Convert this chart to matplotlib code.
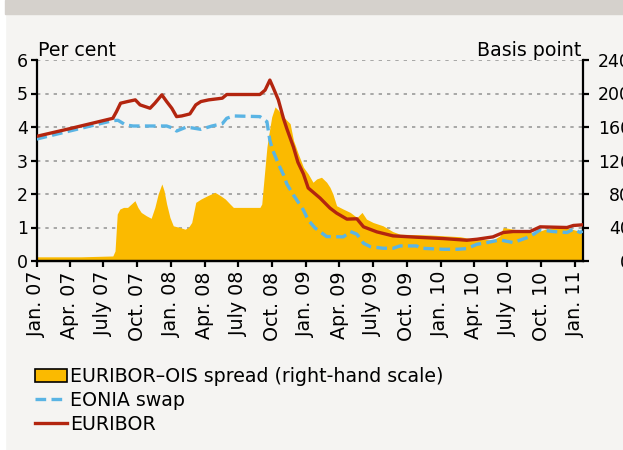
import matplotlib
matplotlib.use('Agg')
from matplotlib import pyplot as plt
from matplotlib.patches import Rectangle, Patch
from matplotlib.lines import Line2D
import pandas as pd

# 3-month EURIBOR, per cent
euribor_dates = ['2007-01-01', '2007-04-01', '2007-07-27', '2007-08-06', '2007-08-17', '2007-09-05',
                 '2007-09-26', '2007-10-09', '2007-11-05', '2007-11-18', '2007-12-07', '2007-12-20',
                 '2008-01-03', '2008-01-16', '2008-01-30', '2008-02-21', '2008-03-08', '2008-03-22',
                 '2008-04-12', '2008-05-19', '2008-05-31', '2008-08-29', '2008-09-12', '2008-09-25',
                 '2008-10-03', '2008-10-18', '2008-11-01', '2008-11-10', '2008-11-28', '2008-12-10',
                 '2008-12-25', '2009-01-07', '2009-02-08', '2009-03-07', '2009-03-25', '2009-04-22',
                 '2009-05-19', '2009-06-06', '2009-07-12', '2009-08-25', '2009-10-28', '2010-01-08',
                 '2010-03-13', '2010-04-10', '2010-05-23', '2010-06-20', '2010-07-17', '2010-09-01',
                 '2010-09-28', '2010-12-10', '2010-12-27', '2011-01-21']
euribor = [3.72, 3.95, 4.26, 4.46, 4.71, 4.76,
           4.81, 4.66, 4.56, 4.71, 4.96, 4.76,
           4.56, 4.31, 4.33, 4.39, 4.66, 4.76,
           4.81, 4.86, 4.97, 4.97, 5.10, 5.40,
           5.20, 4.81, 4.25, 3.95, 3.40, 2.95,
           2.60, 2.18, 1.88, 1.58, 1.43, 1.25,
           1.26, 1.02, 0.87, 0.75, 0.71, 0.67,
           0.62, 0.65, 0.72, 0.85, 0.88, 0.88,
           1.02, 1.00, 1.06, 1.08]

# 3-month EONIA swap, per cent
eonia_dates = ['2007-01-01', '2007-04-01', '2007-07-27', '2007-08-10', '2007-08-31', '2007-09-20',
               '2007-12-20', '2008-01-10', '2008-01-16', '2008-02-12', '2008-03-22', '2008-04-21',
               '2008-05-19', '2008-05-31', '2008-06-18', '2008-08-29', '2008-09-17', '2008-09-25',
               '2008-10-03', '2008-10-18', '2008-11-01', '2008-11-10', '2008-11-28', '2008-12-25',
               '2009-01-07', '2009-01-26', '2009-02-26', '2009-04-12', '2009-04-22', '2009-05-01',
               '2009-05-19', '2009-06-06', '2009-06-24', '2009-07-29', '2009-08-25', '2009-09-13',
               '2009-10-28', '2009-11-10', '2010-01-08', '2010-02-15', '2010-03-13', '2010-04-10',
               '2010-05-07', '2010-06-11', '2010-07-17', '2010-09-01', '2010-09-28', '2010-11-02',
               '2010-12-10', '2010-12-27', '2011-01-15', '2011-01-21']
eonia = [3.64, 3.88, 4.19, 4.20, 4.06, 4.03,
         4.03, 3.95, 3.88, 4.00, 3.93, 4.03,
         4.10, 4.26, 4.33, 4.31, 4.16, 3.60,
         3.30, 2.90, 2.57, 2.30, 1.97, 1.52,
         1.22, 0.98, 0.73, 0.72, 0.80, 0.88,
         0.80, 0.53, 0.43, 0.38, 0.38, 0.45,
         0.45, 0.38, 0.35, 0.35, 0.37, 0.50,
         0.55, 0.63, 0.55, 0.73, 0.93, 0.88,
         0.85, 0.95, 0.85, 0.90]

# EURIBOR-OIS spread, basis points
spread_dates = ['2007-01-01', '2007-03-01', '2007-05-01', '2007-07-27', '2007-08-02', '2007-08-08',
                '2007-08-15', '2007-08-25', '2007-09-05', '2007-09-20', '2007-09-25', '2007-10-03',
                '2007-10-12', '2007-10-26', '2007-11-08', '2007-11-18', '2007-11-27', '2007-12-07',
                '2007-12-13', '2007-12-20', '2007-12-29', '2008-01-07', '2008-01-25', '2008-02-08',
                '2008-02-17', '2008-02-26', '2008-03-08', '2008-03-22', '2008-04-09', '2008-04-29',
                '2008-05-14', '2008-05-27', '2008-06-09', '2008-06-18', '2008-08-29', '2008-09-03',
                '2008-09-07', '2008-09-17', '2008-09-21', '2008-09-30', '2008-10-09', '2008-10-18',
                '2008-11-01', '2008-11-19', '2008-11-28', '2008-12-11', '2008-12-25', '2009-01-07',
                '2009-01-20', '2009-01-30', '2009-02-12', '2009-02-26', '2009-03-07', '2009-03-15',
                '2009-03-25', '2009-04-12', '2009-05-01', '2009-05-19', '2009-06-02', '2009-06-14',
                '2009-07-02', '2009-07-29', '2009-08-25', '2009-09-13', '2009-12-04', '2010-02-23',
                '2010-03-20', '2010-04-27', '2010-05-23', '2010-06-11', '2010-06-20', '2010-07-17',
                '2010-08-24', '2010-09-09', '2010-10-12', '2010-11-13', '2010-12-10', '2010-12-31',
                '2011-01-21']
spread = [5, 5, 5, 6, 12, 56,
          62, 64, 64, 70, 72, 64,
          58, 54, 51, 64, 80, 92,
          84, 68, 52, 42, 40, 38,
          40, 46, 70, 74, 78, 82,
          78, 74, 68, 64, 64, 68,
          88, 136, 148, 172, 184, 180,
          172, 164, 144, 128, 112, 104,
          94, 98, 100, 94, 88, 80,
          66, 62, 58, 52, 58, 50,
          46, 42, 35, 32, 31, 29,
          27, 26, 25, 30, 40, 38,
          36, 33, 38, 41, 40, 37,
          35]

tick_dates = ['2007-01-01', '2007-04-01', '2007-07-01', '2007-10-01', '2008-01-01', '2008-04-01',
              '2008-07-01', '2008-10-01', '2009-01-01', '2009-04-01', '2009-07-01', '2009-10-01',
              '2010-01-01', '2010-04-01', '2010-07-01', '2010-10-01', '2011-01-01']
tick_labels = ['Jan. 07', 'Apr. 07', 'July 07', 'Oct. 07', 'Jan. 08', 'Apr. 08', 'July 08', 'Oct. 08',
               'Jan. 09', 'Apr. 09', 'July 09', 'Oct. 09', 'Jan. 10', 'Apr. 10', 'July 10', 'Oct. 10',
               'Jan. 11']

bg = '#f5f4f2'
yellow = '#fbba00'
blue = '#5ab4e4'
red = '#b3250f'
fs = 13.7
fs_y = 12.5

plt.rcParams['font.family'] = ['DejaVu Sans']
fig = plt.figure(figsize=(6.23, 4.5), dpi=100, facecolor=bg)
fig.patches.append(Rectangle((0, 0), 5 / 623, 1, transform=fig.transFigure, color='white', zorder=0))
fig.patches.append(Rectangle((5 / 623, 1 - 14 / 450), 1, 14 / 450, transform=fig.transFigure,
                             color='#d5d1cc', zorder=0))

ax2 = fig.add_axes([36.5 / 623, 1 - 261 / 450, 546 / 623, 201 / 450])
ax = ax2.twinx()
# ax2 carries the spread (right-hand scale) + grid, ax the rates on top
ax.yaxis.tick_left()
ax.yaxis.set_label_position('left')
ax2.yaxis.tick_right()
ax2.yaxis.set_label_position('right')
ax.patch.set_visible(False)
ax2.patch.set_visible(False)

sd = pd.to_datetime(spread_dates)
ax2.fill_between(sd, 0, spread, color=yellow, lw=0, zorder=2)
ax2.set_ylim(0, 240)
ax2.set_yticks(range(0, 241, 40))
ax2.grid(axis='y', color='#9a9a9a', ls=(0, (2, 3)), lw=1.2, zorder=1)
ax2.set_axisbelow(True)

ax.plot(pd.to_datetime(eonia_dates), eonia, color=blue, lw=2.4, ls=(0, (3.2, 1.6)), zorder=3)
ax.plot(pd.to_datetime(euribor_dates), euribor, color=red, lw=2.4, zorder=4)
ax.set_ylim(0, 6)
ax.set_yticks(range(0, 7))

xmin, xmax = pd.Timestamp('2007-01-01'), pd.Timestamp('2011-01-21')
for a in (ax, ax2):
    a.set_xlim(xmin, xmax)
    a.spines['top'].set_visible(False)
    for s in a.spines.values():
        s.set_linewidth(1.6)

ax.spines['right'].set_visible(False)
ax2.spines['left'].set_visible(False)

ax2.set_xticks(pd.to_datetime(tick_dates))
ax2.set_xticklabels(tick_labels, rotation=90, fontsize=fs)
ax2.tick_params(axis='x', length=4.5, width=1.6, pad=3)
ax.tick_params(axis='y', length=4, width=1.6, pad=2, labelsize=fs_y)
ax2.tick_params(axis='y', length=4, width=1.6, pad=31, labelsize=fs_y)
for lab in ax2.get_yticklabels():
    lab.set_horizontalalignment('right')

fig.text(38 / 623, 1 - 56 / 450, 'Per cent', fontsize=fs, va='baseline', ha='left')
fig.text(581 / 623, 1 - 56 / 450, 'Basis point', fontsize=fs, va='baseline', ha='right')

handles = [Patch(facecolor=yellow, edgecolor='black', lw=1.2),
           Line2D([], [], color=blue, lw=2.4, ls=(0, (3.2, 1.6))),
           Line2D([], [], color=red, lw=2.4)]
labels = ['EURIBOR\u2013OIS spread (right-hand scale)', 'EONIA swap', 'EURIBOR']
fig.legend(handles, labels, loc='upper left', bbox_to_anchor=(35 / 623, 1 - 367 / 450),
           frameon=False, fontsize=fs, handlelength=1.7, handletextpad=0.15,
           labelspacing=0.25, borderpad=0, borderaxespad=0)

fig.savefig('out.png', dpi=100, facecolor=bg)
